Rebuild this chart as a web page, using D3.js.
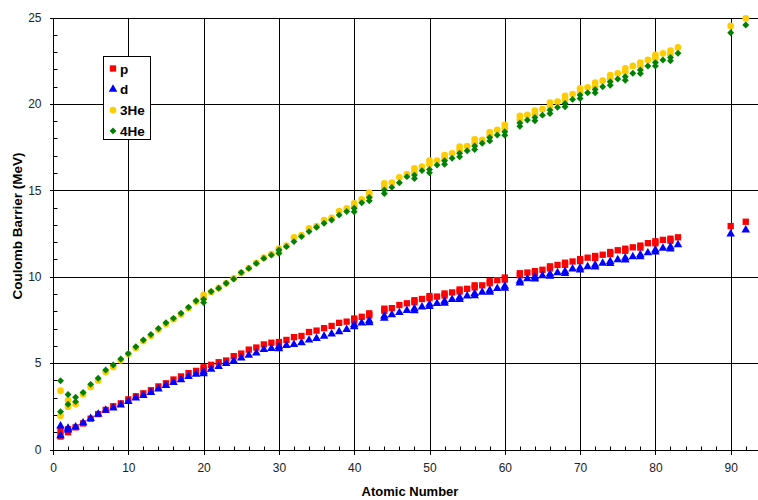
<!DOCTYPE html>
<html>
<head>
<meta charset="utf-8">
<script src="https://cdn.jsdelivr.net/npm/d3@7/dist/d3.min.js"></script>
<style>
  html, body { margin: 0; padding: 0; background: #fff; }
  svg { display: block; }
  text { font-family: "Liberation Sans", Arial, sans-serif; }
</style>
</head>
<body>
<svg id="chart" width="758" height="500"></svg>
<script>
// ---------- DATA ----------
const atomicNumbers = [1,2,3,4,5,6,7,8,9,10,11,12,13,14,15,16,17,18,19,20,21,22,23,24,25,26,27,28,29,30,31,32,33,34,35,36,37,38,39,40,41,42,44,45,46,47,48,49,50,51,52,53,54,55,56,57,58,59,60,62,63,64,65,66,67,68,69,70,71,72,73,74,75,76,77,78,79,80,81,82,83,90,92];

const pValues = [0.75,1.00,1.28,1.51,1.78,2.05,2.29,2.50,2.67,2.90,3.08,3.25,3.43,3.65,3.83,4.05,4.23,4.42,4.55,4.76,4.90,5.05,5.15,5.40,5.55,5.78,5.90,6.08,6.18,6.22,6.34,6.50,6.57,6.80,6.88,7.02,7.15,7.33,7.40,7.58,7.68,7.88,8.15,8.18,8.36,8.46,8.64,8.71,8.88,8.85,9.03,9.09,9.26,9.30,9.50,9.50,9.74,9.80,9.95,10.20,10.24,10.32,10.40,10.60,10.68,10.81,10.88,11.02,11.10,11.20,11.27,11.43,11.53,11.62,11.70,11.80,11.94,12.05,12.13,12.20,12.28,12.93,13.18];

const dValues = [0.80,1.13,1.30,1.54,1.80,2.04,2.27,2.40,2.58,2.78,2.98,3.13,3.30,3.50,3.70,3.88,4.04,4.22,4.35,4.50,4.65,4.80,4.98,5.12,5.30,5.45,5.58,5.78,5.85,5.95,6.02,6.08,6.18,6.33,6.42,6.55,6.68,6.82,6.95,7.22,7.32,7.45,7.72,7.80,7.92,8.05,8.15,8.25,8.40,8.45,8.58,8.68,8.80,8.88,9.02,9.10,9.22,9.32,9.45,9.75,9.88,9.98,10.05,10.15,10.23,10.30,10.45,10.50,10.58,10.68,10.78,10.88,10.98,11.08,11.15,11.27,11.38,11.55,11.65,11.72,11.85,12.47,12.70];

const he3Values = [1.95,2.48,2.63,3.20,3.62,4.00,4.48,4.78,5.16,5.52,5.88,6.28,6.58,6.94,7.26,7.54,7.82,8.18,8.56,8.95,9.12,9.35,9.62,9.90,10.22,10.50,10.80,11.10,11.30,11.62,11.80,12.28,12.40,12.80,12.92,13.28,13.40,13.80,13.95,14.25,14.48,14.86,15.40,15.44,15.75,15.94,16.27,16.37,16.71,16.72,17.04,17.14,17.52,17.55,17.95,17.92,18.37,18.49,18.78,19.30,19.36,19.61,19.69,20.07,20.13,20.46,20.57,20.90,20.96,21.23,21.34,21.67,21.77,22.06,22.20,22.39,22.54,22.83,22.93,23.08,23.27,24.51,24.95];

const he4Values = [2.19,2.62,2.77,3.30,3.77,4.12,4.60,4.89,5.24,5.55,5.95,6.34,6.66,7.00,7.34,7.59,7.88,8.23,8.61,8.70,9.14,9.33,9.62,9.87,10.25,10.48,10.77,11.06,11.25,11.55,11.74,12.03,12.32,12.61,12.86,13.09,13.28,13.57,13.77,13.96,14.28,14.59,15.02,15.17,15.44,15.79,15.88,16.14,16.21,16.46,16.71,16.85,17.14,17.29,17.56,17.72,18.06,18.20,18.39,18.90,19.07,19.22,19.35,19.64,19.80,20.03,20.26,20.51,20.65,20.84,20.99,21.28,21.44,21.57,21.77,21.96,22.19,22.39,22.54,22.69,22.93,24.12,24.57];

// additional isotopes (second point at the same atomic number)
const extraNumbers = [1,2,20,30,40,42,44,48,50,52,54,56,58,60,62,64,66,68,70,72,74,76,78,80,82];
const pExtra   = [1.08,1.17,4.64,6.10,7.46,7.76,8.03,8.52,8.76,8.91,9.14,9.38,9.62,9.83,10.08,10.20,10.48,10.69,10.90,11.08,11.31,11.50,11.68,11.93,12.08];
const dExtra   = [1.36,1.23,4.38,5.83,7.10,7.33,7.60,8.03,8.28,8.46,8.68,8.90,9.10,9.33,9.63,9.86,10.03,10.18,10.38,10.56,10.76,10.96,11.15,11.43,11.60];
const he3Extra = [3.40,2.86,8.75,11.42,14.05,14.66,15.20,16.07,16.51,16.84,17.32,17.75,18.17,18.58,19.10,19.41,19.87,20.26,20.70,21.03,21.47,21.86,22.19,22.63,22.88];
const he4Extra = [3.98,3.18,8.50,11.35,13.76,14.39,14.82,15.68,16.01,16.51,16.94,17.36,17.86,18.19,18.70,19.02,19.44,19.83,20.31,20.64,21.08,21.37,21.76,22.19,22.49];
const he4Extra2Numbers = [3];
const he4Extra2 = [3.02];

const seriesNames = ["p", "d", "3He", "4He"];
const xTicks = [0,10,20,30,40,50,60,70,80,90];
const yTicks = [0,5,10,15,20,25];
const xTitle = "Atomic Number";
const yTitle = "Coulomb Barrier (MeV)";

// ---------- LAYOUT ----------
const svg = d3.select("#chart");
const W = 758, H = 500;
const x = d3.scaleLinear().domain([0, 100]).range([53, 806]);
const y = d3.scaleLinear().domain([0, 25]).range([449.5, 17.5]);
const xRight = W;

svg.append("rect").attr("width", W).attr("height", H).attr("fill", "#fff");

// gridlines
const grid = svg.append("g").attr("shape-rendering", "crispEdges");
grid.selectAll(".hg").data(yTicks.filter(d => d > 0)).join("line")
  .attr("x1", x(0)).attr("x2", xRight)
  .attr("y1", d => Math.round(y(d)) + 0.5).attr("y2", d => Math.round(y(d)) + 0.5)
  .attr("stroke", "#000").attr("stroke-width", 1);
grid.selectAll(".vg").data(xTicks.filter(d => d > 0)).join("line")
  .attr("x1", d => Math.round(x(d)) + 0.5).attr("x2", d => Math.round(x(d)) + 0.5)
  .attr("y1", y(25)).attr("y2", y(0))
  .attr("stroke", "#000").attr("stroke-width", 1);

// axes
const xAxis = svg.append("g")
  .attr("transform", `translate(0,${Math.round(y(0)) + 0.5})`)
  .call(d3.axisBottom(x).tickValues(xTicks).tickSize(4).tickPadding(9).tickFormat(d3.format("d")));
xAxis.select(".domain").attr("d", `M${x(0)},0H${xRight}`);
xAxis.selectAll(".tick line").attr("y1", -4).attr("y2", 4);
xAxis.selectAll(".minor").data(d3.range(2, 96, 2).filter(v => v % 10 !== 0)).join("line")
  .attr("x1", d => Math.round(x(d)) + 0.5).attr("x2", d => Math.round(x(d)) + 0.5)
  .attr("y1", 0).attr("y2", -4).attr("stroke", "#000");

const yAxis = svg.append("g")
  .attr("transform", `translate(${Math.round(x(0)) + 0.5},0)`)
  .call(d3.axisLeft(y).tickValues(yTicks).tickSize(4).tickPadding(8));
yAxis.select(".domain").attr("d", `M0,${y(0)}V${y(25)}`);
yAxis.selectAll(".tick line").attr("x1", -4).attr("x2", 4);
yAxis.selectAll(".minor").data(d3.range(1, 25).filter(v => v % 5 !== 0)).join("line")
  .attr("y1", d => Math.round(y(d)) + 0.5).attr("y2", d => Math.round(y(d)) + 0.5)
  .attr("x1", 0).attr("x2", 4).attr("stroke", "#000");

svg.selectAll(".tick text").attr("font-size", 12).attr("fill", "#222")
  .attr("font-family", "'Liberation Sans', Arial, sans-serif");
svg.selectAll(".domain, .tick line").attr("stroke", "#000").attr("shape-rendering", "crispEdges");

// axis titles
svg.append("text").attr("x", 410).attr("y", 496).attr("text-anchor", "middle")
  .attr("font-size", 13).attr("font-weight", "bold").text(xTitle);
svg.append("text").attr("transform", "translate(22,226) rotate(-90)").attr("text-anchor", "middle")
  .attr("font-size", 13.5).attr("font-weight", "bold").text(yTitle);

// ---------- MARKERS ----------
const styles = [
  { type: d3.symbolSquare,   size: 40, color: "#FF0000", rot: 0 },
  { type: d3.symbolTriangle, size: 32, color: "#0000FF", rot: 0 },
  { type: d3.symbolCircle,   size: 36, color: "#FFCC00", rot: 0 },
  { type: d3.symbolSquare,   size: 24, color: "#008000", rot: 45 }
];

function pts(zs, vs) { return zs.map((z, i) => ({ z, v: vs[i] })); }
const seriesData = [
  pts(atomicNumbers, pValues).concat(pts(extraNumbers, pExtra)),
  pts(atomicNumbers, dValues).concat(pts(extraNumbers, dExtra)),
  pts(atomicNumbers, he3Values).concat(pts(extraNumbers, he3Extra)),
  pts(atomicNumbers, he4Values).concat(pts(extraNumbers, he4Extra)).concat(pts(he4Extra2Numbers, he4Extra2))
];

seriesData.forEach((data, i) => {
  const st = styles[i];
  const sym = d3.symbol().type(st.type).size(st.size);
  svg.append("g").selectAll("path").data(data).join("path")
    .attr("d", sym)
    .attr("transform", d => `translate(${x(d.z)},${y(d.v)}) rotate(${st.rot})`)
    .attr("fill", st.color);
});

// ---------- LEGEND ----------
const lg = svg.append("g");
lg.append("rect").attr("x", 103.5).attr("y", 56.5).attr("width", 47).attr("height", 83)
  .attr("fill", "#fff").attr("stroke", "#000").attr("shape-rendering", "crispEdges");
seriesNames.forEach((name, i) => {
  const cy = 68.5 + i * 20.8;
  const st = styles[i];
  lg.append("path").attr("d", d3.symbol().type(st.type).size(st.size)())
    .attr("transform", `translate(113,${cy}) rotate(${st.rot})`).attr("fill", st.color);
  lg.append("text").attr("x", 120).attr("y", cy + 5).attr("font-size", 13.5)
    .attr("font-weight", "bold").text(name);
});
</script>
</body>
</html>
